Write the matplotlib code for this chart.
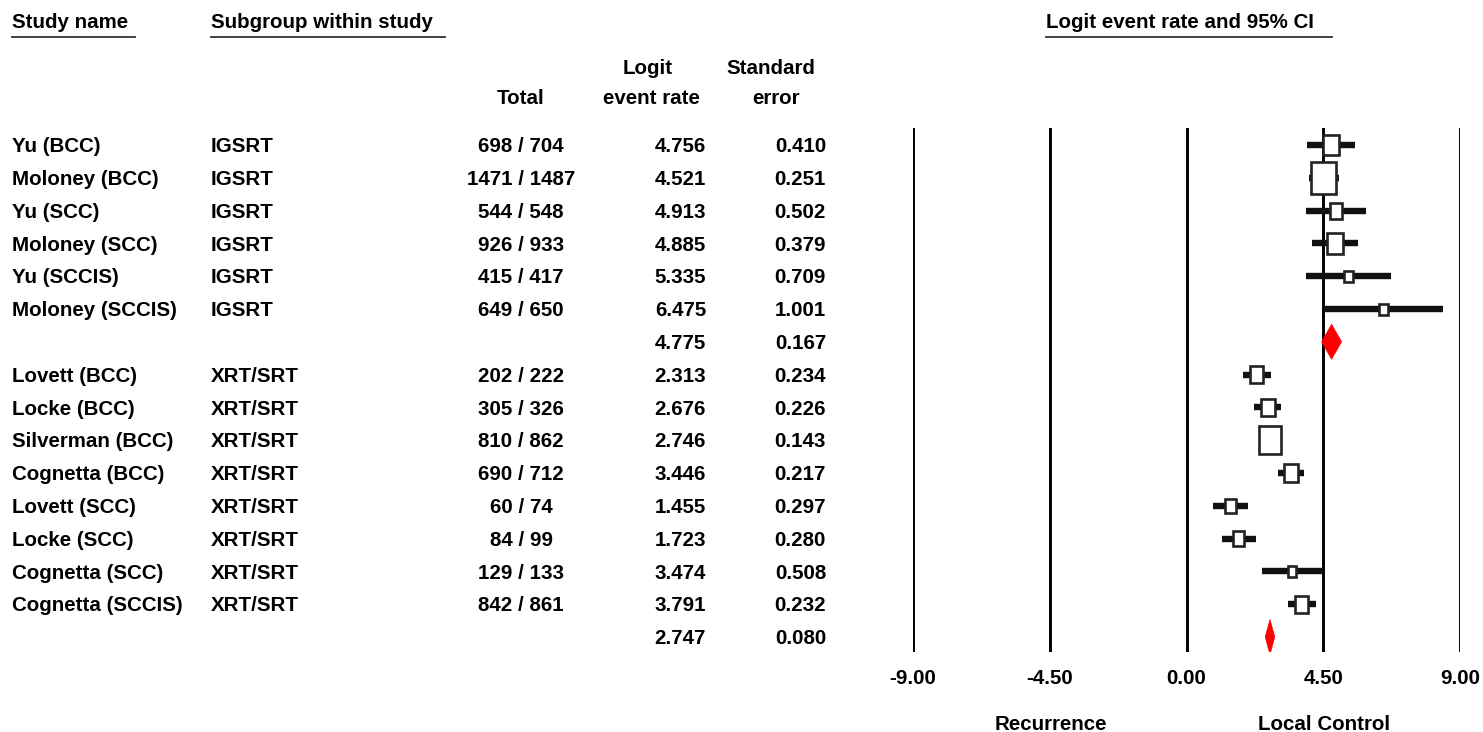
import numpy as np
import matplotlib
matplotlib.use("Agg")
import matplotlib.pyplot as plt
from matplotlib.patches import Rectangle, Polygon
from matplotlib.lines import Line2D
from matplotlib import transforms

# data
study = ["Yu (BCC)", "Moloney (BCC)", "Yu (SCC)", "Moloney (SCC)", "Yu (SCCIS)",
         "Moloney (SCCIS)", "Lovett (BCC)", "Locke (BCC)", "Silverman (BCC)",
         "Cognetta (BCC)", "Lovett (SCC)", "Locke (SCC)", "Cognetta (SCC)",
         "Cognetta (SCCIS)"]
subgroup = ["IGSRT"] * 6 + ["XRT/SRT"] * 8
events = [698, 1471, 544, 926, 415, 649, 202, 305, 810, 690, 60, 84, 129, 842]
totals = [704, 1487, 548, 933, 417, 650, 222, 326, 862, 712, 74, 99, 133, 861]
logit = [4.756, 4.521, 4.913, 4.885, 5.335, 6.475, 2.313, 2.676, 2.746, 3.446,
         1.455, 1.723, 3.474, 3.791]
se = [0.410, 0.251, 0.502, 0.379, 0.709, 1.001, 0.234, 0.226, 0.143, 0.217,
      0.297, 0.280, 0.508, 0.232]
summary_logit = [4.775, 2.747]
summary_se = [0.167, 0.080]
ticks = [-9.0, -4.5, 0.0, 4.5, 9.0]

W, H = 1483, 732
fig = plt.figure(figsize=(W / 100, H / 100), dpi=100)
plt.rcParams['font.family'] = ['Liberation Sans', 'DejaVu Sans']
FS = 14.8

def fx(px):
    return px / W

def fy(py):
    return 1 - py / H

# forest axes
row0, drow = 145, 32.8
top, bot = 128, 652
ax = fig.add_axes([fx(913), fy(bot), fx(1460) - fx(913), (bot - top) / H])
ax.set_xlim(-9, 9)
ax.set_ylim((bot - row0) / drow, (top - row0) / drow)
for s in ax.spines.values():
    s.set_visible(False)
ax.set_yticks([])
ax.set_xticks(ticks)
ax.set_xticklabels([f"{t:.2f}" for t in ticks], fontsize=FS, fontweight='bold')
ax.tick_params(axis='x', length=0, pad=12)
for t in ticks:
    ax.axvline(t, color='black', lw=2.1, zorder=1)

px_per_unit = (1460 - 913) / 18.0
box_max = [32, 28]

# rows: group 1 studies, summary, group 2 studies, summary
rows = list(range(6)) + list(range(7, 15))
sum_rows = [6, 15]
groups = [0] * 6 + [1] * 8

inv = 1 / np.array(se)
for i, r in enumerate(rows):
    lo = logit[i] - 1.96 * se[i]
    hi = logit[i] + 1.96 * se[i]
    ax.plot([lo, hi], [r, r], color='#111111', lw=4.6, solid_capstyle='butt', zorder=2)
    g = groups[i]
    gmax = inv[np.array(groups) == g].max()
    h_px = max(box_max[g] * inv[i] / gmax, 11)
    w_px = h_px * 0.78
    w = w_px / px_per_unit
    h = h_px / drow
    ax.add_patch(Rectangle((logit[i] - w / 2, r - h / 2), w, h, facecolor='white',
                           edgecolor='#222222', lw=1.9, zorder=3))

for k, r in enumerate(sum_rows):
    lo = summary_logit[k] - 1.96 * summary_se[k]
    hi = summary_logit[k] + 1.96 * summary_se[k]
    hh = 17.5 / drow
    ax.add_patch(Polygon([(lo, r), (summary_logit[k], r - hh), (hi, r),
                          (summary_logit[k], r + hh)], closed=True,
                         facecolor='red', edgecolor='red', lw=0.5, zorder=3))

# table text, x in figure fraction, y in rows
tr = transforms.blended_transform_factory(fig.transFigure, ax.transData)
dy = 0.05
for i, r in enumerate(rows):
    kw = dict(transform=tr, va='center', fontsize=FS, fontweight='bold')
    fig.text(fx(12), r + dy, study[i], ha='left', **kw)
    fig.text(fx(211), r + dy, subgroup[i], ha='left', **kw)
    fig.text(fx(521), r + dy, f"{events[i]} / {totals[i]}", ha='center', **kw)
    fig.text(fx(706), r + dy, f"{logit[i]:.3f}", ha='right', **kw)
    fig.text(fx(826), r + dy, f"{se[i]:.3f}", ha='right', **kw)
for k, r in enumerate(sum_rows):
    kw = dict(transform=tr, va='center', fontsize=FS, fontweight='bold')
    fig.text(fx(706), r + dy, f"{summary_logit[k]:.3f}", ha='right', **kw)
    fig.text(fx(826), r + dy, f"{summary_se[k]:.3f}", ha='right', **kw)

# headers
hk = dict(va='center', fontsize=FS, fontweight='bold')
fig.text(fx(12), fy(22), "Study name", ha='left', **hk)
fig.text(fx(211), fy(22), "Subgroup within study", ha='left', **hk)
fig.text(fx(1046), fy(22), "Logit event rate and 95% CI", ha='left', **hk)
for x0, x1 in [(12, 135), (211, 445), (1046, 1332)]:
    fig.add_artist(Line2D([fx(x0), fx(x1)], [fy(37), fy(37)], color='#333333', lw=1.3,
                          transform=fig.transFigure))
fig.text(fx(648), fy(69), "Logit", ha='center', **hk)
fig.text(fx(771), fy(69), "Standard", ha='center', **hk)
fig.text(fx(521), fy(99), "Total", ha='center', **hk)
fig.text(fx(651), fy(99), "event rate", ha='center', **hk)
fig.text(fx(776), fy(99), "error", ha='center', **hk)

fig.text(fx(1051), fy(724), "Recurrence", ha='center', **hk)
fig.text(fx(1324), fy(724), "Local Control", ha='center', **hk)

fig.savefig("out.png", dpi=100)
